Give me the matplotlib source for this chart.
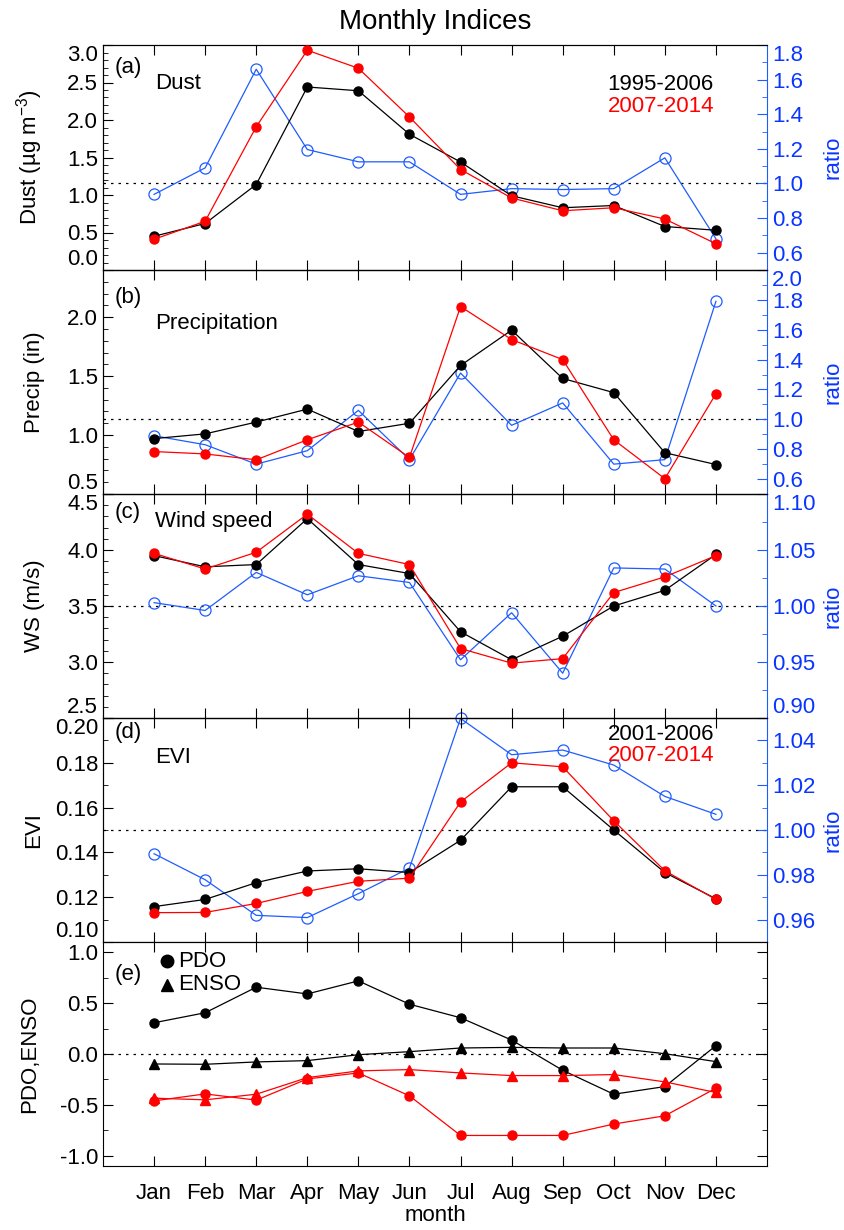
import numpy as np
import matplotlib
matplotlib.use('Agg')
import matplotlib.pyplot as plt
from matplotlib.ticker import MultipleLocator, FormatStrFormatter

plt.rcParams['font.family'] = ['Liberation Sans Narrow', 'Liberation Sans', 'DejaVu Sans']
plt.rcParams['mathtext.fontset'] = 'custom'
plt.rcParams['mathtext.rm'] = 'Liberation Sans'

months = ['Jan', 'Feb', 'Mar', 'Apr', 'May', 'Jun', 'Jul', 'Aug', 'Sep', 'Oct', 'Nov', 'Dec']

# (a) dust
dust_early = [0.45, 0.62, 1.14, 2.44, 2.39, 1.81, 1.44, 0.99, 0.83, 0.86, 0.58, 0.53]
dust_late = [0.41, 0.65, 1.91, 2.93, 2.69, 2.04, 1.34, 0.96, 0.79, 0.83, 0.68, 0.35]
dust_ratio = [0.937, 1.09, 1.66, 1.196, 1.125, 1.125, 0.937, 0.97, 0.965, 0.97, 1.148, 0.68]

# (b) precipitation
prec_early = [0.97, 1.01, 1.11, 1.22, 1.03, 1.10, 1.59, 1.89, 1.48, 1.36, 0.85, 0.75]
prec_late = [0.86, 0.84, 0.79, 0.96, 1.11, 0.81, 2.09, 1.81, 1.64, 0.96, 0.63, 1.35]
prec_ratio = [0.89, 0.83, 0.70, 0.79, 1.06, 0.73, 1.31, 0.96, 1.11, 0.70, 0.73, 1.79]

# (c) wind speed
ws_early = [3.95, 3.85, 3.87, 4.28, 3.87, 3.79, 3.27, 3.02, 3.23, 3.50, 3.64, 3.96]
ws_late = [3.97, 3.83, 3.98, 4.32, 3.97, 3.87, 3.12, 2.99, 3.03, 3.62, 3.76, 3.95]
ws_ratio = [1.003, 0.996, 1.030, 1.010, 1.027, 1.021, 0.952, 0.994, 0.940, 1.034, 1.033, 1.000]

# (d) EVI
evi_early = [0.1158, 0.119, 0.1265, 0.1317, 0.1327, 0.131, 0.1454, 0.1693, 0.1693, 0.150, 0.131, 0.1193]
evi_late = [0.1131, 0.1132, 0.1172, 0.1226, 0.1271, 0.1285, 0.1625, 0.180, 0.1782, 0.1541, 0.1318, 0.119]
evi_ratio = [0.9894, 0.9778, 0.9619, 0.9609, 0.9716, 0.983, 1.0498, 1.0336, 1.0357, 1.029, 1.015, 1.007]

# (e) PDO / ENSO
pdo_early = [0.307, 0.405, 0.656, 0.59, 0.718, 0.489, 0.356, 0.137, -0.160, -0.395, -0.320, 0.082]
enso_early = [-0.098, -0.101, -0.078, -0.065, -0.007, 0.023, 0.059, 0.065, 0.059, 0.059, 0.003, -0.075]
pdo_late = [-0.46, -0.392, -0.453, -0.245, -0.186, -0.411, -0.80, -0.80, -0.80, -0.688, -0.607, -0.336]
enso_late = [-0.434, -0.45, -0.395, -0.232, -0.166, -0.153, -0.186, -0.212, -0.212, -0.202, -0.274, -0.378]

BLUE = '#1f5cff'
BLUE_TXT = '#0a35ff'
FS = 16

x = np.arange(1, 13)

fig = plt.figure(figsize=(8.45, 12.3), dpi=100)
left, width = 103 / 845, 664 / 845
tops = [45, 270, 494, 718, 942]
bot = 1166
edges = tops + [bot]


def style_axis(ax, ylim, major, minor, fmt):
    ax.set_xlim(0, 13)
    ax.set_ylim(*ylim)
    ax.set_xticks(x)
    ax.yaxis.set_major_locator(MultipleLocator(major))
    ax.yaxis.set_minor_locator(MultipleLocator(minor))
    ax.yaxis.set_major_formatter(FormatStrFormatter(fmt))
    ax.tick_params(axis='both', which='major', direction='in', length=7, width=0.8, labelsize=FS)
    ax.tick_params(axis='y', which='minor', direction='in', length=3.5, width=0.6)
    ax.tick_params(axis='x', top=True, labelbottom=False)


def nudge_labels(ax, which='left'):
    # keep labels at the axis ends inside the panel
    lo, hi = ax.get_ylim()
    span = hi - lo
    for t, loc in zip(ax.yaxis.get_major_ticks(), ax.yaxis.get_majorticklocs()):
        lab = t.label1 if which == 'left' else t.label2
        if abs(loc - hi) < span * 1e-4:
            lab.set_va('top')
        elif abs(loc - lo) < span * 1e-4:
            lab.set_va('bottom')


def panel(i, early, late, ratio, ylim, major, minor, fmt,
          rlim, rmajor, rminor, rfmt, ylabel, tag, name, name_y, tag_y, legend=None):
    ax = fig.add_axes([left, 1 - edges[i + 1] / 1230, width, (edges[i + 1] - edges[i]) / 1230])
    style_axis(ax, ylim, major, minor, fmt)
    ax.tick_params(axis='y', right=False, which='both')
    ax.plot(x, early, color='black', lw=0.9, marker='o', ms=6.5, zorder=3, clip_on=False)
    ax.plot(x, late, color='red', lw=0.9, marker='o', ms=6.5, zorder=3, clip_on=False)
    ax.set_ylabel(ylabel, fontsize=FS)
    ax.yaxis.set_label_coords(-0.088, 0.5)
    ax.spines['right'].set_visible(False)
    ax.text(0.018, tag_y, tag, transform=ax.transAxes, fontsize=FS, va='top')
    ax.text(0.078, name_y, name, transform=ax.transAxes, fontsize=FS, va='top')
    if legend:
        ax.text(0.92, legend[0], legend[1], transform=ax.transAxes, fontsize=FS,
                va='top', ha='right', color='black')
        ax.text(0.92, legend[0] - 0.095, '2007-2014', transform=ax.transAxes, fontsize=FS,
                va='top', ha='right', color='red')

    rx = ax.twinx()
    rx.set_xlim(0, 13)
    rx.set_ylim(*rlim)
    rx.yaxis.set_major_locator(MultipleLocator(rmajor))
    rx.yaxis.set_minor_locator(MultipleLocator(rminor))
    rx.yaxis.set_major_formatter(FormatStrFormatter(rfmt))
    rx.tick_params(axis='y', which='major', direction='in', length=7, width=0.8,
                   labelsize=FS, colors=BLUE, labelcolor=BLUE_TXT)
    rx.tick_params(axis='y', which='minor', direction='in', length=3.5, width=0.6, colors=BLUE)
    rx.spines['right'].set_color(BLUE)
    rx.axhline(1.0, color='black', lw=0.9, ls=(0, (2, 4)), zorder=1)
    rx.plot(x, ratio, color=BLUE, lw=0.9, marker='o', ms=8, mfc='none', mec=BLUE,
            mew=0.9, zorder=3, clip_on=False)
    rx.set_ylabel('ratio', fontsize=FS, color=BLUE_TXT)
    rx.yaxis.set_label_coords(1.083, 0.5)
    ax.set_zorder(rx.get_zorder() + 1)
    ax.patch.set_visible(False)
    return ax, rx


a = panel(0, dust_early, dust_late, dust_ratio, (0, 3.0), 0.5, 0.1, '%.1f',
          (0.5, 1.8), 0.2, 0.1, '%.1f', 'Dust (µg m$^{-3}$)', '(a)', 'Dust', 0.875, 0.945,
          legend=(0.87, '1995-2006'))
b = panel(1, prec_early, prec_late, prec_ratio, (0.5, 2.4), 0.5, 0.1, '%.1f',
          (0.5, 2.0), 0.2, 0.1, '%.1f', 'Precip (in)', '(b)', 'Precipitation', 0.81, 0.925)
c = panel(2, ws_early, ws_late, ws_ratio, (2.5, 4.5), 0.5, 0.1, '%.1f',
          (0.9, 1.1), 0.05, 0.025, '%.2f', 'WS (m/s)', '(c)', 'Wind speed', 0.925, 0.965)
d = panel(3, evi_early, evi_late, evi_ratio, (0.10, 0.20), 0.02, 0.01, '%.2f',
          (0.95, 1.05), 0.02, 0.01, '%.2f', 'EVI', '(d)', 'EVI', 0.87, 0.98,
          legend=(0.975, '2001-2006'))
axes = [a, b, c, d]

# (e)
ae = fig.add_axes([left, 1 - bot / 1230, width, (bot - tops[4]) / 1230])
style_axis(ae, (-1.1, 1.1), 0.5, 0.25, '%.1f')
ae.tick_params(axis='y', right=True, which='both')
ae.axhline(0.0, color='black', lw=0.9, ls=(0, (2, 4)), zorder=1)
ae.plot(x, pdo_early, color='black', lw=0.9, marker='o', ms=6.5, zorder=3)
ae.plot(x, enso_early, color='black', lw=0.9, marker='^', ms=6.5, zorder=3)
ae.plot(x, pdo_late, color='red', lw=0.9, marker='o', ms=6.5, zorder=3)
ae.plot(x, enso_late, color='red', lw=0.9, marker='^', ms=6.5, zorder=3)
ae.set_ylabel('PDO,ENSO', fontsize=FS)
ae.yaxis.set_label_coords(-0.095, 0.5)
ae.text(0.018, 0.90, '(e)', transform=ae.transAxes, fontsize=FS, va='top')
ae.plot([0.096], [0.915], marker='o', ms=9, color='black', transform=ae.transAxes, clip_on=False)
ae.plot([0.096], [0.81], marker='^', ms=9, color='black', transform=ae.transAxes, clip_on=False)
ae.text(0.113, 0.915, 'PDO', transform=ae.transAxes, fontsize=FS, va='center')
ae.text(0.113, 0.81, 'ENSO', transform=ae.transAxes, fontsize=FS, va='center')
ae.tick_params(axis='x', labelbottom=True, pad=12)
ae.set_xticklabels(months, fontsize=FS)
ae.set_xlabel('month', fontsize=FS, labelpad=1)

for ax, rx in axes:
    nudge_labels(ax, 'left')
    nudge_labels(rx, 'right')
nudge_labels(ae, 'left')

fig.text(left + width / 2, 1 - 22 / 1230, 'Monthly Indices', ha='center', va='center', fontsize=20)

fig.savefig('out.png', dpi=100)
